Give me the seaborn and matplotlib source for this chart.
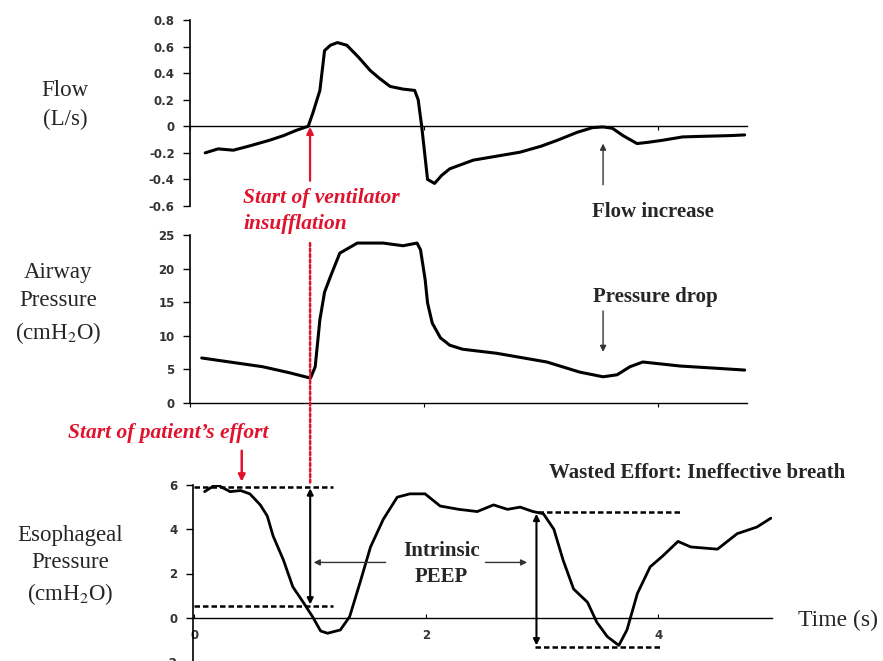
import numpy as np
import pandas as pd
import matplotlib
matplotlib.use("Agg")
import matplotlib.pyplot as plt
from matplotlib.patches import ConnectionPatch
import seaborn as sns

# ---------------- data ----------------
flow_t = [0.13, 0.24, 0.37, 0.50, 0.68, 0.80, 0.91, 1.01, 1.05, 1.11, 1.15, 1.20, 1.26,
          1.34, 1.44, 1.54, 1.62, 1.71, 1.82, 1.92, 1.95, 1.98, 2.03, 2.09, 2.15, 2.22,
          2.42, 2.62, 2.82, 3.00, 3.14, 3.31, 3.44, 3.53, 3.61, 3.70, 3.82, 3.92, 4.04,
          4.21, 4.40, 4.62, 4.74]
flow_v = [-0.20, -0.17, -0.18, -0.15, -0.105, -0.07, -0.03, 0.0, 0.10, 0.27, 0.57, 0.61,
          0.63, 0.61, 0.52, 0.42, 0.36, 0.30, 0.28, 0.27, 0.20, 0.0, -0.40, -0.43, -0.37,
          -0.32, -0.255, -0.225, -0.195, -0.15, -0.105, -0.045, -0.01, -0.005, -0.015,
          -0.07, -0.13, -0.12, -0.105, -0.08, -0.075, -0.07, -0.065]

paw_t = [0.10, 0.34, 0.62, 0.85, 1.03, 1.07, 1.11, 1.15, 1.20, 1.28, 1.43, 1.65, 1.82,
         1.94, 1.97, 2.01, 2.03, 2.07, 2.14, 2.22, 2.33, 2.62, 3.05, 3.33, 3.53, 3.65,
         3.76, 3.87, 4.19, 4.47, 4.74]
paw_v = [6.7, 6.1, 5.4, 4.5, 3.7, 5.4, 12.4, 16.5, 18.8, 22.3, 23.8, 23.8, 23.4, 23.8,
         22.8, 18.3, 14.9, 11.9, 9.7, 8.6, 8.0, 7.4, 6.1, 4.6, 3.9, 4.2, 5.4, 6.1, 5.5,
         5.2, 4.9]

pes_t = [0.09, 0.18, 0.22, 0.31, 0.40, 0.48, 0.57, 0.63, 0.68, 0.77, 0.85, 0.94, 1.02,
         1.09, 1.15, 1.26, 1.34, 1.43, 1.52, 1.63, 1.75, 1.86, 1.99, 2.12, 2.28, 2.44,
         2.58, 2.70, 2.81, 2.92, 3.01, 3.10, 3.18, 3.27, 3.39, 3.47, 3.56, 3.66, 3.73,
         3.82, 3.93, 4.04, 4.17, 4.28, 4.51, 4.68, 4.85, 4.97]
pes_v = [5.7, 6.0, 5.95, 5.7, 5.75, 5.6, 5.1, 4.6, 3.7, 2.6, 1.4, 0.7, 0.05, -0.6, -0.7,
         -0.55, 0.05, 1.6, 3.2, 4.45, 5.45, 5.6, 5.6, 5.05, 4.9, 4.8, 5.1, 4.9, 5.0, 4.8,
         4.7, 4.0, 2.6, 1.3, 0.7, -0.2, -0.85, -1.25, -0.55, 1.1, 2.3, 2.8, 3.45, 3.2,
         3.1, 3.8, 4.1, 4.5]

flow_ticks = [-0.6, -0.4, -0.2, 0, 0.2, 0.4, 0.6, 0.8]
flow_ticklabels = ["-0.6", "-0.4", "-0.2", "0", "0.2", "0.4", "0.6", "0.8"]
paw_ticks = [0, 5, 10, 15, 20, 25]
pes_ticks = [-2, 0, 2, 4, 6]
time_ticks = [0, 2, 4]

# annotation values
t_ins_top = 1.026      # start of insufflation (top / middle panel time)
t_ins_bot = 1.0        # same instant on the bottom panel
t_effort = 0.41
t_ineff = 3.53
peep1_hi, peep1_lo = 5.9, 0.55
peep2_hi, peep2_lo = 4.8, -1.3
t_peep2 = 2.95

# ---------------- figure ----------------
sns.set_theme(style="ticks")
plt.rcParams["font.family"] = ["Liberation Serif", "DejaVu Serif"]
plt.rcParams["mathtext.fontset"] = "stix"

W, H = 883, 661
fig = plt.figure(figsize=(W / 100, H / 100), dpi=100)
fig.patch.set_facecolor("white")

def fx(px):
    return px / W

def fy(py):
    return 1 - py / H

def box(l, t, r, b):
    return [fx(l), fy(b), fx(r) - fx(l), fy(t) - fy(b)]

ax1 = fig.add_axes(box(190, 20, 747, 206))
ax2 = fig.add_axes(box(190, 235, 747, 403))
ax3 = fig.add_axes(box(193, 485, 772, 662))

red = "#e0132e"
tickfont = dict(family="DejaVu Sans", weight="bold", size=8.5)

for ax in (ax1, ax2, ax3):
    ax.set_facecolor("white")
    for s in ("top", "right"):
        ax.spines[s].set_visible(False)
    ax.spines["left"].set_linewidth(1.2)
    ax.spines["bottom"].set_linewidth(1.0)
    ax.spines["left"].set_color("black")
    ax.spines["bottom"].set_color("black")
    ax.spines["bottom"].set_position(("data", 0))
    ax.tick_params(axis="y", length=5, width=1.0, pad=6, colors="black", labelcolor="#333333")
    ax.tick_params(axis="x", length=3, width=0.8, colors="black", labelcolor="#333333")
    ax.set_xlabel("")
    ax.set_ylabel("")

# top: flow
sns.lineplot(x=flow_t, y=flow_v, ax=ax1, color="black", linewidth=2.2)
ax1.set_xlim(0, 4.76)
ax1.set_ylim(-0.6, 0.8)
ax1.set_yticks(flow_ticks)
ax1.set_yticklabels(flow_ticklabels, fontdict=tickfont)
ax1.set_xticks(time_ticks)
ax1.set_xticklabels([])

# middle: airway pressure
sns.lineplot(x=paw_t, y=paw_v, ax=ax2, color="black", linewidth=2.2)
ax2.set_xlim(0, 4.76)
ax2.set_ylim(0, 25)
ax2.set_yticks(paw_ticks)
ax2.set_yticklabels([str(v) for v in paw_ticks], fontdict=tickfont)
ax2.set_xticks(time_ticks)
ax2.set_xticklabels([])

# bottom: esophageal pressure
sns.lineplot(x=pes_t, y=pes_v, ax=ax3, color="black", linewidth=2.0)
ax3.set_xlim(-0.01, 4.98)
ax3.set_ylim(-2, 6)
ax3.set_yticks(pes_ticks)
ax3.set_yticklabels([str(v) for v in pes_ticks], fontdict=tickfont)
ax3.set_xticks(time_ticks)
ax3.set_xticklabels([str(v) for v in time_ticks], fontdict=tickfont)
ax3.tick_params(axis="x", direction="in", pad=8)

for ax in (ax1, ax2, ax3):
    for lab in ax.get_yticklabels() + ax.get_xticklabels():
        lab.set_family("DejaVu Sans")

# dashed reference lines (bottom)
dash = (0, (2.2, 1.2))
ax3.plot([0, 1.20], [peep1_hi, peep1_hi], color="black", lw=1.8, linestyle=dash, clip_on=False)
ax3.plot([0, 1.20], [peep1_lo, peep1_lo], color="black", lw=1.8, linestyle=dash, clip_on=False)
ax3.plot([2.96, 4.19], [peep2_hi, peep2_hi], color="black", lw=1.8, linestyle=dash, clip_on=False)
ax3.plot([2.94, 4.03], [peep2_lo, peep2_lo], color="black", lw=1.8, linestyle=dash, clip_on=False)

# vertical double arrows
dbl = dict(arrowstyle="<|-|>", lw=1.5, color="black", mutation_scale=9, shrinkA=0, shrinkB=0)
ax3.annotate("", xy=(t_ins_bot, peep1_lo + 0.05), xytext=(t_ins_bot, peep1_hi - 0.05),
             arrowprops=dbl, annotation_clip=False)
ax3.annotate("", xy=(t_peep2, peep2_lo + 0.05), xytext=(t_peep2, peep2_hi - 0.1),
             arrowprops=dbl, annotation_clip=False)

# Intrinsic PEEP arrows and text
thin = dict(arrowstyle="-|>", lw=1.0, color="#333333", mutation_scale=9, shrinkA=0, shrinkB=0)
ax3.annotate("", xy=(1.03, 2.5), xytext=(1.65, 2.5), arrowprops=thin)
ax3.annotate("", xy=(2.87, 2.5), xytext=(2.51, 2.5), arrowprops=thin)
ax3.text(2.13, 2.45, "Intrinsic\nPEEP", ha="center", va="center", fontsize=15,
         fontweight="bold", linespacing=1.4, multialignment="center")

# red dotted line from middle to bottom panel
con = ConnectionPatch(xyA=(t_ins_top, 23.8), coordsA=ax2.transData,
                      xyB=(t_ins_bot, 6.0), coordsB=ax3.transData,
                      color=red, lw=1.8, linestyle=(0, (1.2, 1.0)))
fig.add_artist(con)

# red arrow at insufflation (top panel)
ax1.annotate("", xy=(t_ins_top, -0.005), xytext=(t_ins_top, -0.41),
             arrowprops=dict(arrowstyle="-|>", lw=1.6, color=red, mutation_scale=10,
                             shrinkA=0, shrinkB=0), annotation_clip=False)

# red arrow for patient's effort (bottom panel)
ax3.annotate("", xy=(t_effort, 6.15), xytext=(t_effort, 7.55),
             arrowprops=dict(arrowstyle="-|>", lw=1.8, color=red, mutation_scale=10,
                             shrinkA=0, shrinkB=0), annotation_clip=False)

# flow increase / pressure drop arrows
gray_arrow = dict(arrowstyle="-|>", lw=1.0, color="#333333", mutation_scale=9, shrinkA=0, shrinkB=0)
ax1.annotate("", xy=(t_ineff, -0.13), xytext=(t_ineff, -0.44), arrowprops=gray_arrow,
             annotation_clip=False)
ax2.annotate("", xy=(t_ineff, 7.6), xytext=(t_ineff, 13.7), arrowprops=gray_arrow)

# texts
fig.text(fx(243), fy(211), "Start of ventilator\ninsufflation", color=red, fontsize=15.5,
         fontweight="bold", fontstyle="italic", ha="left", va="center", linespacing=1.4)
fig.text(fx(68), fy(433), "Start of patient\u2019s effort", color=red, fontsize=15.5,
         fontweight="bold", fontstyle="italic", ha="left", va="center")
fig.text(fx(653), fy(212), "Flow increase", fontsize=15, fontweight="bold",
         ha="center", va="center")
fig.text(fx(655), fy(297), "Pressure drop", fontsize=15, fontweight="bold",
         ha="center", va="center")
fig.text(fx(697), fy(473), "Wasted Effort: Ineffective breath", fontsize=15,
         fontweight="bold", ha="center", va="center")
fig.text(fx(798), fy(620), "Time (s)", fontsize=17, ha="left", va="center")

fig.text(fx(65), fy(105), "Flow\n(L/s)", fontsize=16.5, ha="center", va="center",
         linespacing=1.5, multialignment="center")
fig.text(fx(58), fy(304), "Airway\nPressure\n(cmH$_2$O)", fontsize=16.5, ha="center",
         va="center", linespacing=1.45, multialignment="center")
fig.text(fx(70), fy(566), "Esophageal\nPressure\n(cmH$_2$O)", fontsize=16.5, ha="center",
         va="center", linespacing=1.4, multialignment="center")

fig.savefig("out.png", dpi=100, facecolor="white")
